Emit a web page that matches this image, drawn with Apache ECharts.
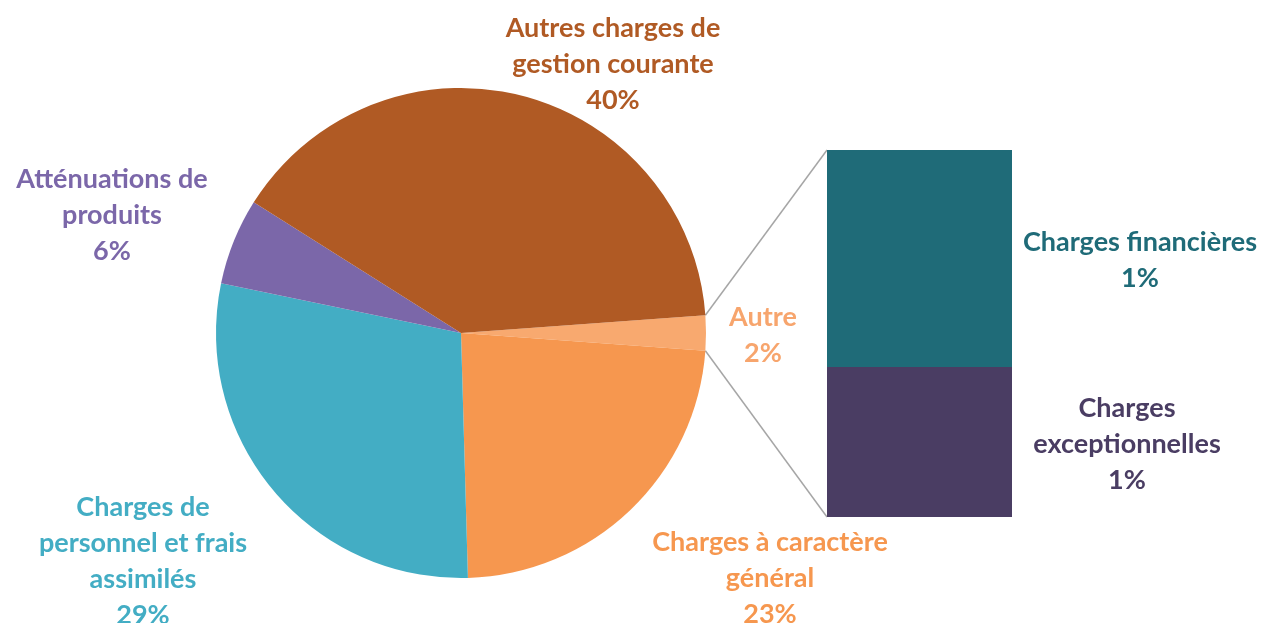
<!DOCTYPE html>
<html><head><meta charset="utf-8">
<script src="https://cdn.jsdelivr.net/npm/echarts@6/dist/echarts.min.js"></script>
<style>html,body{margin:0;padding:0;background:#fff}#c{width:1265px;height:623px}</style>
</head><body><div id="c"></div>
<script>
// ---- data ----
const pieNames = ['Autre', 'Charges à caractère\ngénéral', 'Charges de\npersonnel et frais\nassimilés', 'Atténuations de\nproduits', 'Autres charges de\ngestion courante'];
const pieValues = [2.3, 23.4, 28.7, 5.7, 39.9];
const barNames = ['Charges\nexceptionnelles', 'Charges financières'];
const barValues = [0.94, 1.36];

// ---- styles / layout ----
const pieColors = ['#F8A96F', '#F6974F', '#43ADC4', '#7B67A9', '#B05A24'];
const pieTextColors = ['#F7A56D', '#F6974F', '#43ADC4', '#7B67A9', '#B05A24'];
const barColors = ['#4A3D63', '#1F6B78'];
const pieLabelPos = [[763, 335], [770, 578], [143, 561], [112, 215], [613, 64]];
const barLabelPos = [[1127, 444], [1140, 260]];
const PIE_C = [461, 333], PIE_R = 245;
const GRID = {left: 827, top: 150, width: 185, height: 367};
const FONT = 'Lato';
const FS = 27;
const LH = 36;

const pieTotal = pieValues.reduce((a, b) => a + b, 0);
const halfAngle = pieValues[0] / pieTotal * 360 / 2;
const barTotal = barValues.reduce((a, b) => a + b, 0);

const chart = echarts.init(document.getElementById('c'), null, {renderer: 'canvas'});

const labelBase = {fontFamily: FONT, fontWeight: 'bold', fontSize: FS, lineHeight: LH};

const series = [{
  type: 'pie',
  center: PIE_C,
  radius: PIE_R,
  startAngle: halfAngle,
  clockwise: true,
  avoidLabelOverlap: false,
  percentPrecision: 0,
  data: pieNames.map((n, i) => ({
    name: n, value: pieValues[i],
    itemStyle: {color: pieColors[i]},
    label: {color: pieTextColors[i]}
  })),
  label: Object.assign({show: true, position: 'outside', formatter: '{b}\n{d}%'}, labelBase),
  labelLine: {show: false},
  labelLayout: function (p) {
    const pos = pieLabelPos[p.dataIndex];
    return {x: pos[0], y: pos[1], align: 'center', verticalAlign: 'middle'};
  },
  emphasis: {disabled: true}
}];

barNames.forEach((n, i) => {
  series.push({
    type: 'bar',
    name: n,
    stack: 'autre',
    barWidth: '100%',
    data: [barValues[i]],
    itemStyle: {color: barColors[i]},
    label: Object.assign({
      show: true, position: 'right', color: barColors[i],
      formatter: function (p) { return n + '\n' + Math.round(p.value) + '%'; }
    }, labelBase),
    labelLayout: function () {
      const pos = barLabelPos[i];
      return {x: pos[0], y: pos[1], align: 'center', verticalAlign: 'middle'};
    },
    emphasis: {disabled: true}
  });
});

const rad = halfAngle * Math.PI / 180;
const pTop = [PIE_C[0] + PIE_R * Math.cos(rad), PIE_C[1] - PIE_R * Math.sin(rad)];
const pBot = [PIE_C[0] + PIE_R * Math.cos(rad), PIE_C[1] + PIE_R * Math.sin(rad)];

chart.setOption({
  animation: false,
  backgroundColor: '#ffffff',
  grid: {left: GRID.left, top: GRID.top, width: GRID.width, height: GRID.height},
  xAxis: {type: 'category', data: ['Autre'], show: false, boundaryGap: true},
  yAxis: {type: 'value', min: 0, max: barTotal, show: false},
  graphic: [
    {type: 'line', shape: {x1: pTop[0], y1: pTop[1], x2: GRID.left, y2: GRID.top}, style: {stroke: '#A6A6A6', lineWidth: 1.5}, z: 0},
    {type: 'line', shape: {x1: pBot[0], y1: pBot[1], x2: GRID.left, y2: GRID.top + GRID.height}, style: {stroke: '#A6A6A6', lineWidth: 1.5}, z: 0}
  ],
  series: series
});
</script>
</body></html>
